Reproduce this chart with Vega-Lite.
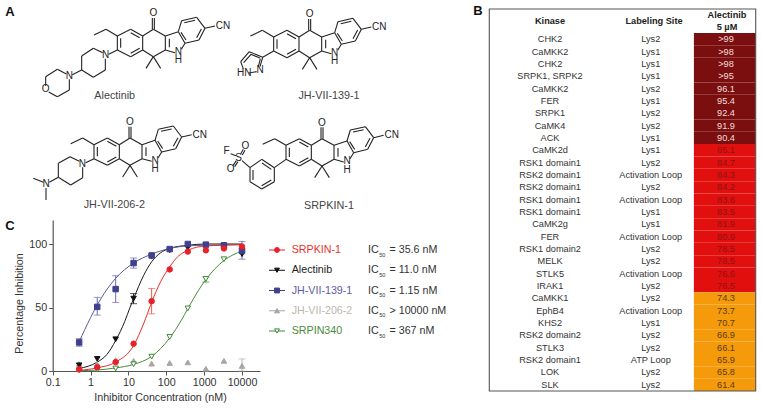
{
"$schema":"https://vega.github.io/schema/vega-lite/v6.json",
"width":762,"height":408,"padding":0,"autosize":{"type":"none"},
"background":"white",
"config":{"font":"Liberation Sans","view":{"stroke":null},"legend":{"disable":true},"axis":{"grid":false}},
"resolve":{"scale":{"x":"independent","y":"independent","color":"independent"}},
"datasets":{
"core":[
{"x":352,"y":108,"x2":392,"y2":88},{"x":392,"y":88,"x2":428,"y2":108},{"x":428,"y":108,"x2":428,"y2":150},{"x":428,"y":150,"x2":392,"y2":170},{"x":392,"y":170,"x2":352,"y2":150},{"x":352,"y":150,"x2":352,"y2":108},
{"x":362,"y":115,"x2":362,"y2":143},{"x":392,"y":98,"x2":419,"y2":113},{"x":419,"y":145,"x2":392,"y2":160},
{"x":428,"y":108,"x2":460,"y2":88},{"x":460,"y":88,"x2":496,"y2":108},{"x":496,"y":108,"x2":496,"y2":150},{"x":496,"y":150,"x2":460,"y2":170},{"x":460,"y":170,"x2":428,"y2":150},
{"x":457,"y":88,"x2":457,"y2":54},{"x":463,"y":88,"x2":463,"y2":54},
{"x":460,"y":170,"x2":438,"y2":205},{"x":460,"y":170,"x2":482,"y2":205},
{"x":496,"y":108,"x2":535,"y2":95},{"x":535,"y":95,"x2":555,"y2":130},{"x":555,"y":130,"x2":544,"y2":148},{"x":496,"y":150,"x2":525,"y2":158},{"x":508,"y":116,"x2":508,"y2":142},
{"x":535,"y":95,"x2":545,"y2":62},{"x":545,"y":62,"x2":590,"y2":52},{"x":590,"y":52,"x2":615,"y2":85},{"x":615,"y":85,"x2":597,"y2":120},{"x":597,"y":120,"x2":555,"y2":130},
{"x":553,"y":68,"x2":585,"y2":61},{"x":604,"y":87,"x2":590,"y2":113},{"x":543,"y":97,"x2":558,"y2":120},
{"x":615,"y":85,"x2":645,"y2":78},
{"x":352,"y":108,"x2":318,"y2":88},{"x":318,"y":88,"x2":282,"y2":105}
],
"coreLabels":[{"t":"O","x":460,"y":40},{"t":"CN","x":669,"y":78},{"t":"N","x":535,"y":156},{"t":"H","x":535,"y":181}],
"subs":[
{"x":352,"y":150,"x2":326,"y2":163},{"x":308,"y":158,"x2":280,"y2":145},{"x":280,"y":145,"x2":245,"y2":168},{"x":245,"y":168,"x2":245,"y2":210},{"x":245,"y":210,"x2":280,"y2":232},{"x":280,"y":232,"x2":316,"y2":210},{"x":316,"y":210,"x2":316,"y2":176},
{"x":245,"y":210,"x2":217,"y2":224},{"x":208,"y":238,"x2":208,"y2":270},{"x":208,"y":270,"x2":172,"y2":290},{"x":172,"y":290,"x2":146,"y2":276},{"x":137,"y":258,"x2":137,"y2":230},{"x":137,"y":230,"x2":172,"y2":208},{"x":172,"y":208,"x2":199,"y2":222},
{"x":282,"y":476,"x2":257,"y2":488},{"x":238,"y":484,"x2":210,"y2":470},{"x":210,"y":470,"x2":175,"y2":490},{"x":175,"y":490,"x2":175,"y2":532},{"x":175,"y":532,"x2":212,"y2":555},{"x":212,"y":555,"x2":248,"y2":533},{"x":248,"y":533,"x2":248,"y2":502},
{"x":175,"y":532,"x2":148,"y2":547},{"x":130,"y":547,"x2":100,"y2":535},{"x":138,"y":564,"x2":138,"y2":600},
{"x":821,"y":153,"x2":788,"y2":172},{"x":788,"y":172,"x2":748,"y2":155},{"x":748,"y":155,"x2":722,"y2":185},{"x":722,"y":185,"x2":730,"y2":206},{"x":746,"y":219,"x2":770,"y2":215},{"x":780,"y":200,"x2":788,"y2":172},
{"x":780,"y":174,"x2":752,"y2":163},{"x":753,"y":163,"x2":731,"y2":188},{"x":775,"y":200,"x2":781,"y2":176},
{"x":858,"y":478,"x2":823,"y2":503},{"x":823,"y":503,"x2":785,"y2":478},{"x":785,"y":478,"x2":750,"y2":503},{"x":750,"y":503,"x2":750,"y2":545},{"x":750,"y":545,"x2":785,"y2":567},{"x":785,"y":567,"x2":823,"y2":545},{"x":823,"y":545,"x2":823,"y2":503},
{"x":786,"y":489,"x2":814,"y2":508},{"x":759,"y":510,"x2":759,"y2":540},{"x":785,"y":557,"x2":814,"y2":540},
{"x":750,"y":503,"x2":726,"y2":482},{"x":692,"y":461,"x2":708,"y2":467},{"x":722,"y":462,"x2":730,"y2":448},{"x":727,"y":465,"x2":735,"y2":451},{"x":709,"y":482,"x2":699,"y2":497},{"x":714,"y":485,"x2":704,"y2":500}
],
"subLabels":[
{"t":"N","x":317,"y":166},{"t":"N","x":208,"y":228},{"t":"O","x":137,"y":268},
{"t":"N","x":247,"y":491},{"t":"N","x":138,"y":552},
{"t":"N","x":780,"y":209},{"t":"HN","x":733,"y":219},
{"t":"F","x":680,"y":453},{"t":"S","x":716,"y":473},{"t":"O","x":692,"y":508},{"t":"O","x":736,"y":437}
],
"letters":[{"t":"A","x":10,"y":12},{"t":"B","x":478,"y":11},{"t":"C","x":10,"y":226}],
"captions":[{"t":"Alectinib","x":114.7,"y":95.7},{"t":"JH-VII-206-2","x":114.3,"y":205},{"t":"JH-VII-139-1","x":329,"y":95.7},{"t":"SRPKIN-1","x":329,"y":205.7}],
"headers":[{"t":"Kinase","x":550,"y":21},{"t":"Labeling Site","x":654,"y":21},{"t":"Alectinib","x":727,"y":15},{"t":"5 µM","x":727,"y":27}],
"table":[
{"row":1,"kinase":"CHK2","site":"Lys2","value":">99","tier":"high"},
{"row":2,"kinase":"CaMKK2","site":"Lys1","value":">98","tier":"high"},
{"row":3,"kinase":"CHK2","site":"Lys1","value":">98","tier":"high"},
{"row":4,"kinase":"SRPK1, SRPK2","site":"Lys1","value":">95","tier":"high"},
{"row":5,"kinase":"CaMKK2","site":"Lys2","value":"96.1","tier":"high"},
{"row":6,"kinase":"FER","site":"Lys1","value":"95.4","tier":"high"},
{"row":7,"kinase":"SRPK1","site":"Lys2","value":"92.4","tier":"high"},
{"row":8,"kinase":"CaMK4","site":"Lys2","value":"91.9","tier":"high"},
{"row":9,"kinase":"ACK","site":"Lys1","value":"90.4","tier":"high"},
{"row":10,"kinase":"CaMK2d","site":"Lys1","value":"85.1","tier":"mid"},
{"row":11,"kinase":"RSK1 domain1","site":"Lys2","value":"84.7","tier":"mid"},
{"row":12,"kinase":"RSK2 domain1","site":"Activation Loop","value":"84.3","tier":"mid"},
{"row":13,"kinase":"RSK2 domain1","site":"Lys2","value":"84.2","tier":"mid"},
{"row":14,"kinase":"RSK1 domain1","site":"Activation Loop","value":"83.6","tier":"mid"},
{"row":15,"kinase":"RSK1 domain1","site":"Lys1","value":"83.5","tier":"mid"},
{"row":16,"kinase":"CaMK2g","site":"Lys1","value":"81.9","tier":"mid"},
{"row":17,"kinase":"FER","site":"Activation Loop","value":"80.9","tier":"mid"},
{"row":18,"kinase":"RSK1 domain2","site":"Lys2","value":"78.5","tier":"mid"},
{"row":19,"kinase":"MELK","site":"Lys2","value":"78.5","tier":"mid"},
{"row":20,"kinase":"STLK5","site":"Activation Loop","value":"76.6","tier":"mid"},
{"row":21,"kinase":"IRAK1","site":"Lys2","value":"76.5","tier":"mid"},
{"row":22,"kinase":"CaMKK1","site":"Lys2","value":"74.3","tier":"low"},
{"row":23,"kinase":"EphB4","site":"Activation Loop","value":"73.7","tier":"low"},
{"row":24,"kinase":"KHS2","site":"Lys1","value":"70.7","tier":"low"},
{"row":25,"kinase":"RSK2 domain2","site":"Lys2","value":"66.9","tier":"low"},
{"row":26,"kinase":"STLK3","site":"Lys2","value":"66.1","tier":"low"},
{"row":27,"kinase":"RSK2 domain1","site":"ATP Loop","value":"65.9","tier":"low"},
{"row":28,"kinase":"LOK","site":"Lys2","value":"65.8","tier":"low"},
{"row":29,"kinase":"SLK","site":"Lys2","value":"61.4","tier":"low"}
],
"curves":[
{"series":"SRPIN340","c":0.5,"v":0.2},{"series":"SRPIN340","c":1.5,"v":0.8},{"series":"SRPIN340","c":4.6,"v":2.4},{"series":"SRPIN340","c":13.7,"v":5.2},{"series":"SRPIN340","c":41,"v":11.5},{"series":"SRPIN340","c":123,"v":26},{"series":"SRPIN340","c":250,"v":40},{"series":"SRPIN340","c":370,"v":49},{"series":"SRPIN340","c":600,"v":60},{"series":"SRPIN340","c":1111,"v":72},{"series":"SRPIN340","c":3333,"v":87},{"series":"SRPIN340","c":10000,"v":94.5},
{"series":"Alectinib","c":0.5,"v":2},{"series":"Alectinib","c":1.5,"v":7},{"series":"Alectinib","c":2.7,"v":13},{"series":"Alectinib","c":4.6,"v":24},{"series":"Alectinib","c":8,"v":39},{"series":"Alectinib","c":11,"v":50},{"series":"Alectinib","c":13.7,"v":57},{"series":"Alectinib","c":25,"v":75},{"series":"Alectinib","c":41,"v":86},{"series":"Alectinib","c":70,"v":93},{"series":"Alectinib","c":123,"v":96.5},{"series":"Alectinib","c":370,"v":99},{"series":"Alectinib","c":1111,"v":100},{"series":"Alectinib","c":10000,"v":100},
{"series":"JH-VII-139-1","c":0.5,"v":23},{"series":"JH-VII-139-1","c":1,"v":42},{"series":"JH-VII-139-1","c":1.5,"v":52},{"series":"JH-VII-139-1","c":4.6,"v":73},{"series":"JH-VII-139-1","c":13.7,"v":85},{"series":"JH-VII-139-1","c":41,"v":92},{"series":"JH-VII-139-1","c":123,"v":96.5},{"series":"JH-VII-139-1","c":370,"v":98.5},{"series":"JH-VII-139-1","c":1111,"v":99},{"series":"JH-VII-139-1","c":10000,"v":99.5},
{"series":"SRPKIN-1","c":0.5,"v":0.5},{"series":"SRPKIN-1","c":1.5,"v":2.5},{"series":"SRPKIN-1","c":4.6,"v":7},{"series":"SRPKIN-1","c":13.7,"v":20},{"series":"SRPKIN-1","c":25,"v":37},{"series":"SRPKIN-1","c":41,"v":54},{"series":"SRPKIN-1","c":70,"v":70},{"series":"SRPKIN-1","c":123,"v":82},{"series":"SRPKIN-1","c":200,"v":90},{"series":"SRPKIN-1","c":370,"v":95},{"series":"SRPKIN-1","c":1111,"v":98.5},{"series":"SRPKIN-1","c":10000,"v":99.5}
],
"points":[
{"series":"JH-VII-206-2","c":0.5,"v":5.5},{"series":"JH-VII-206-2","c":1.5,"v":5.5},{"series":"JH-VII-206-2","c":4.6,"v":8.5},{"series":"JH-VII-206-2","c":13.7,"v":8},{"series":"JH-VII-206-2","c":41,"v":5.8},{"series":"JH-VII-206-2","c":123,"v":6.3},{"series":"JH-VII-206-2","c":370,"v":6.8},{"series":"JH-VII-206-2","c":1111,"v":1.8},{"series":"JH-VII-206-2","c":3333,"v":8},{"series":"JH-VII-206-2","c":10000,"v":4,"lo":0,"hi":9.5},
{"series":"SRPIN340","c":0.5,"v":0.5},{"series":"SRPIN340","c":1.5,"v":1},{"series":"SRPIN340","c":4.6,"v":2},{"series":"SRPIN340","c":13.7,"v":5.3},{"series":"SRPIN340","c":41,"v":11.3},{"series":"SRPIN340","c":123,"v":26.8},{"series":"SRPIN340","c":370,"v":49.3},{"series":"SRPIN340","c":1111,"v":72.5,"lo":70,"hi":74},{"series":"SRPIN340","c":3333,"v":88},{"series":"SRPIN340","c":10000,"v":94.7},
{"series":"Alectinib","c":0.5,"v":4.5},{"series":"Alectinib","c":1.5,"v":9.5},{"series":"Alectinib","c":4.6,"v":25},{"series":"Alectinib","c":13.7,"v":57,"lo":53,"hi":61},{"series":"Alectinib","c":41,"v":90},{"series":"Alectinib","c":123,"v":95},{"series":"Alectinib","c":370,"v":97},{"series":"Alectinib","c":1111,"v":99},{"series":"Alectinib","c":3333,"v":98},{"series":"Alectinib","c":10000,"v":92},
{"series":"JH-VII-139-1","c":0.5,"v":22.5,"lo":19.5,"hi":25.5},{"series":"JH-VII-139-1","c":1.5,"v":50.5,"lo":44,"hi":58},{"series":"JH-VII-139-1","c":4.6,"v":64.5,"lo":54,"hi":75},{"series":"JH-VII-139-1","c":13.7,"v":85,"lo":81,"hi":89},{"series":"JH-VII-139-1","c":41,"v":91},{"series":"JH-VII-139-1","c":123,"v":96},{"series":"JH-VII-139-1","c":370,"v":100},{"series":"JH-VII-139-1","c":1111,"v":99.5},{"series":"JH-VII-139-1","c":3333,"v":99},{"series":"JH-VII-139-1","c":10000,"v":94.5,"lo":88,"hi":102},
{"series":"SRPKIN-1","c":0.5,"v":1.3},{"series":"SRPKIN-1","c":1.5,"v":3},{"series":"SRPKIN-1","c":4.6,"v":7},{"series":"SRPKIN-1","c":13.7,"v":21.5},{"series":"SRPKIN-1","c":41,"v":55,"lo":45,"hi":65},{"series":"SRPKIN-1","c":123,"v":80},{"series":"SRPKIN-1","c":370,"v":94},{"series":"SRPKIN-1","c":1111,"v":95},{"series":"SRPKIN-1","c":3333,"v":96.5},{"series":"SRPKIN-1","c":10000,"v":98}
],
"legend":[
{"series":"SRPKIN-1","ic":"= 35.6 nM"},{"series":"Alectinib","ic":"= 11.0 nM"},{"series":"JH-VII-139-1","ic":"= 1.15 nM"},{"series":"JH-VII-206-2","ic":"> 10000 nM"},{"series":"SRPIN340","ic":"= 367 nM"}
]
},
"layer":[
{"data":{"name":"core"},"mark":{"type":"rule","color":"#222","strokeWidth":1.1},"encoding":{"x":{"field":"x","type":"quantitative","axis":null,"scale":{"domain":[0,2286],"range":[0,762]}},"x2":{"field":"x2"},"y":{"field":"y","type":"quantitative","axis":null,"scale":{"domain":[0,1224],"range":[0,408]}},"y2":{"field":"y2"}}},
{"data":{"name":"core"},"mark":{"type":"rule","color":"#222","strokeWidth":1.1},"encoding":{"x":{"field":"x","type":"quantitative","axis":null,"scale":{"domain":[-469,1817],"range":[0,762]}},"x2":{"field":"x2"},"y":{"field":"y","type":"quantitative","axis":null,"scale":{"domain":[-3,1221],"range":[0,408]}},"y2":{"field":"y2"}}},
{"data":{"name":"core"},"mark":{"type":"rule","color":"#222","strokeWidth":1.1},"encoding":{"x":{"field":"x","type":"quantitative","axis":null,"scale":{"domain":[70,2356],"range":[0,762]}},"x2":{"field":"x2"},"y":{"field":"y","type":"quantitative","axis":null,"scale":{"domain":[-326,898],"range":[0,408]}},"y2":{"field":"y2"}}},
{"data":{"name":"core"},"mark":{"type":"rule","color":"#222","strokeWidth":1.1},"encoding":{"x":{"field":"x","type":"quantitative","axis":null,"scale":{"domain":[-506,1780],"range":[0,762]}},"x2":{"field":"x2"},"y":{"field":"y","type":"quantitative","axis":null,"scale":{"domain":[-328,896],"range":[0,408]}},"y2":{"field":"y2"}}},
{"data":{"name":"coreLabels"},"mark":{"type":"text","fontSize":10,"color":"#222","baseline":"middle"},"encoding":{"text":{"field":"t"},"x":{"field":"x","type":"quantitative","axis":null,"scale":{"domain":[0,2286],"range":[0,762]}},"y":{"field":"y","type":"quantitative","axis":null,"scale":{"domain":[0,1224],"range":[0,408]}}}},
{"data":{"name":"coreLabels"},"mark":{"type":"text","fontSize":10,"color":"#222","baseline":"middle"},"encoding":{"text":{"field":"t"},"x":{"field":"x","type":"quantitative","axis":null,"scale":{"domain":[-469,1817],"range":[0,762]}},"y":{"field":"y","type":"quantitative","axis":null,"scale":{"domain":[-3,1221],"range":[0,408]}}}},
{"data":{"name":"coreLabels"},"mark":{"type":"text","fontSize":10,"color":"#222","baseline":"middle"},"encoding":{"text":{"field":"t"},"x":{"field":"x","type":"quantitative","axis":null,"scale":{"domain":[70,2356],"range":[0,762]}},"y":{"field":"y","type":"quantitative","axis":null,"scale":{"domain":[-326,898],"range":[0,408]}}}},
{"data":{"name":"coreLabels"},"mark":{"type":"text","fontSize":10,"color":"#222","baseline":"middle"},"encoding":{"text":{"field":"t"},"x":{"field":"x","type":"quantitative","axis":null,"scale":{"domain":[-506,1780],"range":[0,762]}},"y":{"field":"y","type":"quantitative","axis":null,"scale":{"domain":[-328,896],"range":[0,408]}}}},
{"data":{"name":"subs"},"mark":{"type":"rule","color":"#222","strokeWidth":1.1},"encoding":{"x":{"field":"x","type":"quantitative","axis":null,"scale":{"domain":[0,2286],"range":[0,762]}},"x2":{"field":"x2"},"y":{"field":"y","type":"quantitative","axis":null,"scale":{"domain":[0,1224],"range":[0,408]}},"y2":{"field":"y2"}}},
{"data":{"name":"subLabels"},"mark":{"type":"text","fontSize":10,"color":"#222","baseline":"middle"},"encoding":{"text":{"field":"t"},"x":{"field":"x","type":"quantitative","axis":null,"scale":{"domain":[0,2286],"range":[0,762]}},"y":{"field":"y","type":"quantitative","axis":null,"scale":{"domain":[0,1224],"range":[0,408]}}}},
{"data":{"name":"letters"},"mark":{"type":"text","fontSize":13,"fontWeight":"bold","color":"#111","baseline":"middle"},"encoding":{"text":{"field":"t"},"x":{"field":"x","type":"quantitative","axis":null,"scale":{"domain":[0,762],"range":[0,762]}},"y":{"field":"y","type":"quantitative","axis":null,"scale":{"domain":[0,408],"range":[0,408]}}}},
{"data":{"name":"captions"},"mark":{"type":"text","fontSize":10.8,"color":"#444","baseline":"middle"},"encoding":{"text":{"field":"t"},"x":{"field":"x","type":"quantitative","axis":null,"scale":{"domain":[0,762],"range":[0,762]}},"y":{"field":"y","type":"quantitative","axis":null,"scale":{"domain":[0,408],"range":[0,408]}}}},
{"data":{"name":"table"},"mark":{"type":"rect"},"encoding":{"x":{"datum":0.768,"type":"quantitative","axis":null,"scale":{"domain":[0,1],"range":[489.3,755.7]}},"x2":{"datum":1},"y":{"field":"row","type":"ordinal","axis":null,"scale":{"type":"band","range":[33,391],"paddingInner":0,"paddingOuter":0}},"color":{"field":"tier","type":"nominal","scale":{"domain":["high","mid","low"],"range":["#7b0f0f","#e20f0f","#f59a0a"]}}}},
{"data":{"name":"table"},"mark":{"type":"text","fontSize":9.2,"color":"#333","baseline":"middle"},"encoding":{"text":{"field":"kinase"},"x":{"datum":0.228,"type":"quantitative","axis":null,"scale":{"domain":[0,1],"range":[489.3,755.7]}},"y":{"field":"row","type":"ordinal","axis":null,"scale":{"type":"band","range":[33,391],"paddingInner":0,"paddingOuter":0}}}},
{"data":{"name":"table"},"mark":{"type":"text","fontSize":9.2,"color":"#333","baseline":"middle"},"encoding":{"text":{"field":"site"},"x":{"datum":0.606,"type":"quantitative","axis":null,"scale":{"domain":[0,1],"range":[489.3,755.7]}},"y":{"field":"row","type":"ordinal","axis":null,"scale":{"type":"band","range":[33,391],"paddingInner":0,"paddingOuter":0}}}},
{"data":{"name":"table"},"mark":{"type":"text","fontSize":9.2,"baseline":"middle"},"encoding":{"text":{"field":"value"},"x":{"datum":0.8885,"type":"quantitative","axis":null,"scale":{"domain":[0,1],"range":[489.3,755.7]}},"y":{"field":"row","type":"ordinal","axis":null,"scale":{"type":"band","range":[33,391],"paddingInner":0,"paddingOuter":0}},"color":{"field":"tier","type":"nominal","scale":{"domain":["high","mid","low"],"range":["#f3dcdc","#8c1414","#5a3d0a"]}}}},
{"data":{"name":"headers"},"mark":{"type":"text","fontSize":9.2,"fontWeight":"bold","color":"#222","baseline":"middle"},"encoding":{"text":{"field":"t"},"x":{"field":"x","type":"quantitative","axis":null,"scale":{"domain":[0,762],"range":[0,762]}},"y":{"field":"y","type":"quantitative","axis":null,"scale":{"domain":[0,408],"range":[0,408]}}}},
{"data":{"values":[{}]},"mark":{"type":"rect","fill":null,"stroke":"#555","strokeWidth":1.1},"encoding":{"x":{"datum":0,"type":"quantitative","axis":null,"scale":{"domain":[0,1],"range":[489.3,755.7]}},"x2":{"datum":1},"y":{"datum":0,"type":"quantitative","axis":null,"scale":{"domain":[0,1],"range":[9,391]}},"y2":{"datum":1}}},
{"data":{"name":"curves"},"mark":{"type":"line","interpolate":"monotone","strokeWidth":1},"encoding":{
"x":{"field":"c","type":"quantitative","scale":{"type":"log","domain":[0.1,29850],"range":[52.7,260]},"axis":{"values":[0.1,1,10,100,1000,10000],"labelExpr":"''+datum.value","offset":-37,"tickSize":4,"domainColor":"#555","domainWidth":1.2,"tickColor":"#555","labelColor":"#333","labelFontSize":10.7,"labelFlush":false,"labelOverlap":false,"labelPadding":2,"title":"Inhibitor Concentration (nM)","titleFontSize":10.7,"titleFontWeight":"normal","titleColor":"#333","titleX":160,"titleY":26,"titleBaseline":"middle"}},
"y":{"field":"v","type":"quantitative","scale":{"domain":[0,118.9],"range":[371,220]},"axis":{"values":[0,50,100],"offset":-52.7,"tickSize":4,"domainColor":"#555","domainWidth":1.2,"tickColor":"#555","labelColor":"#333","labelFontSize":10.7,"labelPadding":2,"title":"Percentage Inhibition","titleFontSize":10.7,"titleFontWeight":"normal","titleColor":"#333","titleX":-33,"titleY":303,"titleBaseline":"middle"}},
"color":{"field":"series","type":"nominal","sort":null,"scale":{"domain":["SRPKIN-1","Alectinib","JH-VII-139-1","JH-VII-206-2","SRPIN340"],"range":["#e8302a","#1a1a1a","#5a5aa2","#b5aea8","#4c8a3c"]}}
}},
{"data":{"name":"points"},"transform":[{"filter":"isValid(datum.lo)"}],"mark":{"type":"rule","strokeWidth":1},"encoding":{"x":{"field":"c","type":"quantitative","axis":null,"scale":{"type":"log","domain":[0.1,29850],"range":[52.7,260]}},"y":{"field":"lo","type":"quantitative","axis":null,"scale":{"domain":[0,118.9],"range":[371,220]}},"y2":{"field":"hi"},"color":{"field":"series","type":"nominal","scale":{"domain":["SRPKIN-1","Alectinib","JH-VII-139-1","JH-VII-206-2","SRPIN340"],"range":["#ee5a50","#1a1a1a","#6a6ab0","#b5aea8","#4c8a3c"]}}}},
{"data":{"name":"points"},"transform":[{"filter":"isValid(datum.lo)"}],"mark":{"type":"tick","orient":"horizontal","size":7,"thickness":1},"encoding":{"x":{"field":"c","type":"quantitative","axis":null,"scale":{"type":"log","domain":[0.1,29850],"range":[52.7,260]}},"y":{"field":"lo","type":"quantitative","axis":null,"scale":{"domain":[0,118.9],"range":[371,220]}},"color":{"field":"series","type":"nominal","scale":{"domain":["SRPKIN-1","Alectinib","JH-VII-139-1","JH-VII-206-2","SRPIN340"],"range":["#ee5a50","#1a1a1a","#6a6ab0","#b5aea8","#4c8a3c"]}}}},
{"data":{"name":"points"},"transform":[{"filter":"isValid(datum.hi)"}],"mark":{"type":"tick","orient":"horizontal","size":7,"thickness":1},"encoding":{"x":{"field":"c","type":"quantitative","axis":null,"scale":{"type":"log","domain":[0.1,29850],"range":[52.7,260]}},"y":{"field":"hi","type":"quantitative","axis":null,"scale":{"domain":[0,118.9],"range":[371,220]}},"color":{"field":"series","type":"nominal","scale":{"domain":["SRPKIN-1","Alectinib","JH-VII-139-1","JH-VII-206-2","SRPIN340"],"range":["#ee5a50","#1a1a1a","#6a6ab0","#b5aea8","#4c8a3c"]}}}},
{"data":{"name":"points"},"mark":{"type":"point","opacity":1,"fillOpacity":1,"strokeWidth":1,"size":30},"encoding":{"x":{"field":"c","type":"quantitative","axis":null,"scale":{"type":"log","domain":[0.1,29850],"range":[52.7,260]}},"y":{"field":"v","type":"quantitative","axis":null,"scale":{"domain":[0,118.9],"range":[371,220]}},"shape":{"field":"series","type":"nominal","scale":{"domain":["SRPKIN-1","Alectinib","JH-VII-139-1","JH-VII-206-2","SRPIN340"],"range":["circle","triangle-down","square","triangle-up","triangle-down"]}},"fill":{"field":"series","type":"nominal","scale":{"domain":["SRPKIN-1","Alectinib","JH-VII-139-1","JH-VII-206-2","SRPIN340"],"range":["#e8202a","#111111","#40408f","#aaa5a0","#ffffff"]}},"stroke":{"field":"series","type":"nominal","scale":{"domain":["SRPKIN-1","Alectinib","JH-VII-139-1","JH-VII-206-2","SRPIN340"],"range":["#e8202a","#111111","#40408f","#aaa5a0","#3f8a38"]}}}},
{"data":{"name":"legend"},"mark":{"type":"rule","strokeWidth":1},"encoding":{"x":{"datum":269,"type":"quantitative","axis":null,"scale":{"domain":[0,762],"range":[0,762]}},"x2":{"datum":285},"y":{"field":"series","type":"nominal","sort":null,"axis":null,"scale":{"type":"point","padding":0,"range":[250,331]}},"color":{"field":"series","type":"nominal","scale":{"domain":["SRPKIN-1","Alectinib","JH-VII-139-1","JH-VII-206-2","SRPIN340"],"range":["#e8202a","#111111","#40408f","#aaa5a0","#3f8a38"]}}}},
{"data":{"name":"legend"},"mark":{"type":"point","opacity":1,"fillOpacity":1,"strokeWidth":1,"size":24},"encoding":{"x":{"datum":277,"type":"quantitative","axis":null,"scale":{"domain":[0,762],"range":[0,762]}},"y":{"field":"series","type":"nominal","sort":null,"axis":null,"scale":{"type":"point","padding":0,"range":[250,331]}},"shape":{"field":"series","type":"nominal","scale":{"domain":["SRPKIN-1","Alectinib","JH-VII-139-1","JH-VII-206-2","SRPIN340"],"range":["circle","triangle-down","square","triangle-up","triangle-down"]}},"fill":{"field":"series","type":"nominal","scale":{"domain":["SRPKIN-1","Alectinib","JH-VII-139-1","JH-VII-206-2","SRPIN340"],"range":["#e8202a","#111111","#40408f","#aaa5a0","#ffffff"]}},"stroke":{"field":"series","type":"nominal","scale":{"domain":["SRPKIN-1","Alectinib","JH-VII-139-1","JH-VII-206-2","SRPIN340"],"range":["#e8202a","#111111","#40408f","#aaa5a0","#3f8a38"]}}}},
{"data":{"name":"legend"},"mark":{"type":"text","fontSize":10.7,"align":"left","baseline":"middle"},"encoding":{"text":{"field":"series"},"x":{"datum":291.7,"type":"quantitative","axis":null,"scale":{"domain":[0,762],"range":[0,762]}},"y":{"field":"series","type":"nominal","sort":null,"axis":null,"scale":{"type":"point","padding":0,"range":[250,331]}},"color":{"field":"series","type":"nominal","scale":{"domain":["SRPKIN-1","Alectinib","JH-VII-139-1","JH-VII-206-2","SRPIN340"],"range":["#e8302a","#222222","#5a5aa2","#bdb6ae","#4c8a3c"]}}}},
{"data":{"name":"legend"},"mark":{"type":"text","fontSize":10.7,"align":"left","baseline":"middle","color":"#333","text":"IC"},"encoding":{"x":{"datum":368,"type":"quantitative","axis":null,"scale":{"domain":[0,762],"range":[0,762]}},"y":{"field":"series","type":"nominal","sort":null,"axis":null,"scale":{"type":"point","padding":0,"range":[250,331]}}}},
{"data":{"name":"legend"},"mark":{"type":"text","fontSize":5.5,"align":"left","baseline":"middle","color":"#333","text":"50","dy":4.5},"encoding":{"x":{"datum":379.2,"type":"quantitative","axis":null,"scale":{"domain":[0,762],"range":[0,762]}},"y":{"field":"series","type":"nominal","sort":null,"axis":null,"scale":{"type":"point","padding":0,"range":[250,331]}}}},
{"data":{"name":"legend"},"mark":{"type":"text","fontSize":10.7,"align":"left","baseline":"middle","color":"#333"},"encoding":{"text":{"field":"ic"},"x":{"datum":389.5,"type":"quantitative","axis":null,"scale":{"domain":[0,762],"range":[0,762]}},"y":{"field":"series","type":"nominal","sort":null,"axis":null,"scale":{"type":"point","padding":0,"range":[250,331]}}}}
]
}
